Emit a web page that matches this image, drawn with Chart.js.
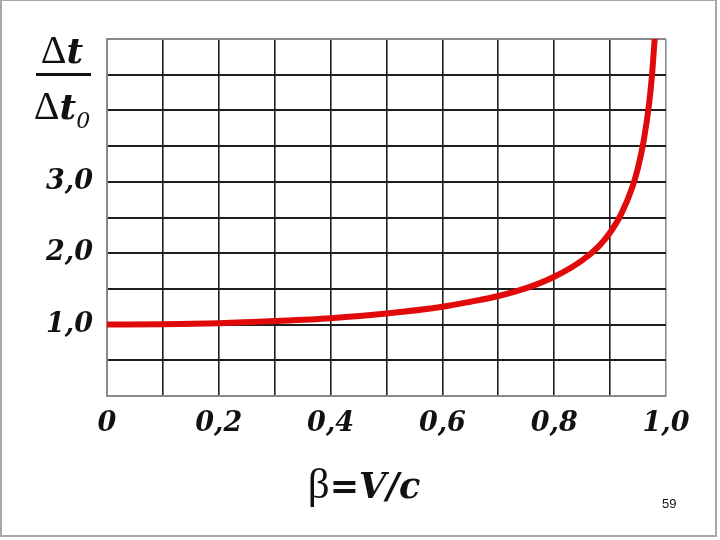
<!DOCTYPE html>
<html>
<head>
<meta charset="utf-8">
<script src="https://cdn.jsdelivr.net/npm/chart.js@4"></script>
<style>
    html, body { margin: 0; padding: 0; background: #fff; }
    #stage { position: relative; width: 720px; height: 540px; overflow: hidden; }
    #frame { position: absolute; left: 0; top: 0; width: 713px; height: 534px; border: 2px solid #a8a8a8; border-top-width: 1px; }
    #chartWrap { position: absolute; left: 0; top: 0; width: 720px; height: 540px; }
    .serif { font-family: 'Liberation Serif', serif; color: #111; }
    .bi { font-family: 'DejaVu Serif', serif; font-weight: bold; font-style: italic; }
    .fracPart { position: absolute; left: 24px; width: 76px; text-align: center; font-size: 40px; line-height: 40px; white-space: nowrap; }
    #fracNum { top: 30px; }
    #fracBar { position: absolute; left: 36px; top: 73px; width: 55px; height: 3px; background: #111; }
    #fracDen { top: 86px; }
    .fracPart .bi { font-size: 36px; }
    #fracDen sub { font-family: 'DejaVu Serif', serif; font-style: italic; font-size: 22px; vertical-align: -9px; line-height: 0; }
    #xTitle { position: absolute; left: 264px; top: 462px; width: 200px; text-align: center; font-size: 43px; line-height: 44px; white-space: nowrap; }
    #xTitle .bi { font-size: 35px; }
    #pageNo { position: absolute; left: 662px; top: 496px; font-family: 'Liberation Sans', Arial, sans-serif; font-size: 13px; color: #111; }
</style>
</head>
<body>
<div id="stage">
    <div id="frame"></div>
    <div id="chartWrap"><canvas id="dilationChart"></canvas></div>
    <div id="fracNum" class="fracPart serif">Δ<span class="bi">t</span></div>
    <div id="fracBar"></div>
    <div id="fracDen" class="fracPart serif">Δ<span class="bi">t</span><sub>0</sub></div>
    <div id="xTitle" class="serif">β<span class="bi">=V/c</span></div>
    <div id="pageNo">59</div>
</div>
<script>
// values
const betaValues = [0, 0.1, 0.2, 0.3, 0.4, 0.5, 0.6, 0.65, 0.7, 0.75, 0.8, 0.85, 0.88, 0.9, 0.92, 0.94, 0.95, 0.96, 0.97, 0.975, 0.98];
const timeRatio = [1.0, 1.005, 1.02, 1.05, 1.09, 1.155, 1.25, 1.32, 1.4, 1.51, 1.67, 1.9, 2.1, 2.29, 2.55, 2.93, 3.2, 3.57, 4.11, 4.5, 5.03];
const xLabelTicks = [0, 0.2, 0.4, 0.6, 0.8, 1.0];
const yLabelTicks = [1, 2, 3];

const points = betaValues.map((b, i) => ({ x: b, y: timeRatio[i] }));

const tickFont = { family: "'DejaVu Serif', serif", size: 27, weight: 'bold', style: 'italic' };

function commaLabel(v) {
    if (Math.abs(v) < 1e-9) return '0';
    return v.toFixed(1).replace('.', ',');
}

function isIn(list, v) {
    return list.some((t) => Math.abs(t - v) < 1e-6);
}

function gridColor(ctx, max) {
    const v = ctx.tick ? ctx.tick.value : 0;
    if (Math.abs(v) < 1e-6 || Math.abs(v - max) < 1e-6) return '#8a8a8a';
    return '#1e1e1e';
}

new Chart(document.getElementById('dilationChart').getContext('2d'), {
    type: 'line',
    data: {
        datasets: [{
            data: points,
            borderColor: '#e00a0a',
            borderWidth: 6,
            pointRadius: 0,
            fill: false,
            cubicInterpolationMode: 'monotone'
        }]
    },
    options: {
        responsive: true,
        maintainAspectRatio: false,
        animation: false,
        layout: { padding: { top: 39, right: 54, left: 0, bottom: 0 } },
        plugins: { legend: { display: false }, tooltip: { enabled: false } },
        scales: {
            x: {
                type: 'linear',
                min: 0,
                max: 1,
                afterFit: (scale) => { scale.height = 144; },
                grid: { color: (ctx) => gridColor(ctx, 1), lineWidth: 1.6, drawTicks: false },
                border: { color: '#8a8a8a', width: 2 },
                ticks: {
                    stepSize: 0.1,
                    autoSkip: false,
                    maxRotation: 0,
                    padding: 12,
                    color: '#111',
                    font: tickFont,
                    callback: (v) => isIn(xLabelTicks, v) ? commaLabel(v) : ''
                }
            },
            y: {
                min: 0,
                max: 5,
                afterFit: (scale) => { scale.width = 107; },
                grid: { color: (ctx) => gridColor(ctx, 5), lineWidth: 2, drawTicks: false },
                border: { color: '#8a8a8a', width: 2 },
                ticks: {
                    stepSize: 0.5,
                    autoSkip: false,
                    padding: 14,
                    color: '#111',
                    font: tickFont,
                    callback: (v) => isIn(yLabelTicks, v) ? commaLabel(v) : ''
                }
            }
        }
    }
});
</script>
</body>
</html>
